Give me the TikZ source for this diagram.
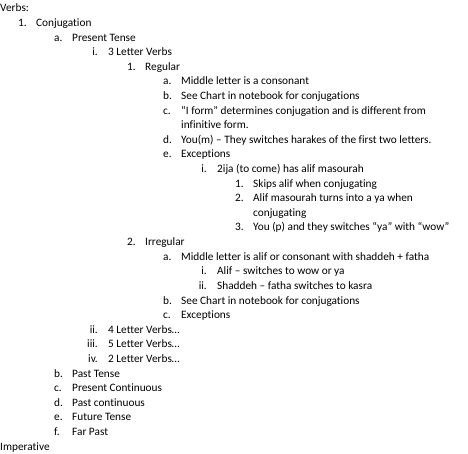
\documentclass[tikz,border=0pt]{standalone}
\usepackage{fontspec}
\setmainfont[Ligatures=NoCommon]{Carlito}

\begin{document}
\begin{tikzpicture}[x=1pt,y=1pt,font=\fontsize{11.3}{14}\selectfont,
  txt/.style={anchor=base west,inner sep=0pt},
  mk/.style={anchor=base west,inner sep=0pt},
  rmk/.style={anchor=base east,inner sep=0pt}]
  \useasboundingbox (0,0) rectangle (468,-454);

  % Lines with a plain marker (number or letter)
  \foreach \n/\x/\m/\t in {
      2/36/1./{Conjugation},
      3/72/a./{Present Tense},
      5/145/1./{Regular},
      6/181/a./{Middle letter is a consonant},
      7/181/b./{See Chart in notebook for conjugations},
      8/181/c./{“I form” determines conjugation and is different from},
      10/181/d./{You(m) – They switches harakes of the first two letters.},
      11/181/e./{Exceptions},
      13/253/1./{Skips alif when conjugating},
      14/253/2./{Alif masourah turns into a ya when},
      16/253/3./{You (p) and they switches “ya” with “wow”},
      17/145/2./{Irregular},
      18/181/a./{Middle letter is alif or consonant with shaddeh + fatha},
      21/181/b./{See Chart in notebook for conjugations},
      22/181/c./{Exceptions},
      26/72/b./{Past Tense},
      27/72/c./{Present Continuous},
      28/72/d./{Past continuous},
      29/72/e./{Future Tense},
      30/72/f./{Far Past}} {
    \node[mk] (m\n) at (\x-18,{-12-14.6*(\n-1)}) {\m};
    \node[txt] (t\n) at (\x,{-12-14.6*(\n-1)}) {\t};
  }

  % Lines with a roman marker, right aligned
  \foreach \n/\x/\m/\t in {
      4/108/i./{3 Letter Verbs},
      12/217/i./{2ija (to come) has alif masourah},
      19/217/i./{Alif – switches to wow or ya},
      20/217/ii./{Shaddeh – fatha switches to kasra},
      23/108/ii./{4 Letter Verbs…},
      24/108/iii./{5 Letter Verbs…},
      25/108/iv./{2 Letter Verbs…}} {
    \node[rmk] (m\n) at (\x-10,{-12-14.6*(\n-1)}) {\m};
    \node[txt] (t\n) at (\x,{-12-14.6*(\n-1)}) {\t};
  }

  % Lines with no marker
  \foreach \n/\x/\t in {
      1/0/{Verbs:},
      9/181/{infinitive form.},
      15/253/{conjugating},
      31/0/{Imperative}} {
    \node[txt] (t\n) at (\x,{-12-14.6*(\n-1)}) {\t};
  }
\end{tikzpicture}
\end{document}
